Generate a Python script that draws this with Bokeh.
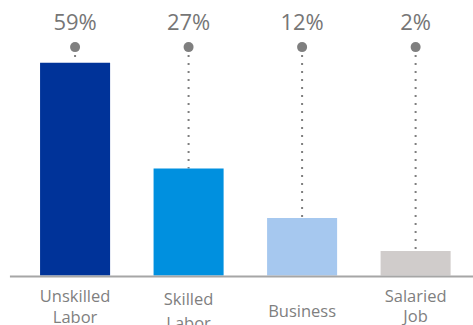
from bokeh.plotting import figure
from bokeh.models import ColumnDataSource, Range1d
from bokeh.core.properties import value
from bokeh.embed import file_html
from bokeh.resources import INLINE

# ---- data ----
categories = ["Unskilled\nLabor", "Skilled\nLabor", "Business", "Salaried\nJob"]
shares = [59, 27, 12, 2]
share_labels = ["59%", "27%", "12%", "2%"]
bar_colors = ["#003399", "#0090DF", "#A6C8EF", "#D0CCCB"]

# ---- layout constants ----
BASE = -5.4          # value at the baseline of the bars
DOT_Y = 63.7         # marker row above the bars
LABEL_Y = 71.5       # percentage label baseline
cat_y_offsets = [8, 11, 23, 8]   # pixels below the baseline
cat_line_heights = [0.95, 1.08, 1.0, 0.9]

x = list(range(len(categories)))
src = ColumnDataSource(dict(
    x=x, top=shares, color=bar_colors, lab=share_labels, cat=categories,
    dot=[DOT_Y] * len(x), laby=[LABEL_Y] * len(x), base=[BASE] * len(x),
    yoff=cat_y_offsets, lh=cat_line_heights,
))

p = figure(width=473, height=325, output_backend="svg", toolbar_location=None,
           x_range=Range1d(-0.657, 3.51), y_range=Range1d(-20.5, 77.8),
           x_axis_type=None, y_axis_type=None, min_border=0,
           outline_line_color=None, background_fill_color="white",
           border_fill_color="white")
p.grid.visible = False

# dotted leaders from marker to bar top
p.segment(x0="x", y0="dot", x1="x", y1="top", source=src, line_color="#7f7f7f",
          line_width=2, line_dash="2 6")

# bars
p.vbar(x="x", bottom=BASE, top="top", width=0.617, fill_color="color",
       line_color=None, source=src)

# baseline
p.segment(x0=[-0.574], y0=[BASE - 0.3], x1=[3.51], y1=[BASE - 0.3],
          line_color="#A6A6A6", line_width=2)

# markers
p.scatter(x="x", y="dot", size=10, fill_color="#7f7f7f", line_color=None,
          source=src)

# percentage labels
p.text(x="x", y="laby", text="lab", source=src, text_align="center",
       text_baseline="alphabetic", text_font=value("Open Sans"),
       text_font_size="22px", text_color="#767676")

# category labels
p.text(x="x", y="base", text="cat", source=src, y_offset="yoff",
       text_align="center", text_baseline="top", text_font=value("Open Sans"),
       text_font_size="16.5px", text_color="#7f7f7f", text_line_height="lh")

open("out.html", "w").write(file_html(p, INLINE))
